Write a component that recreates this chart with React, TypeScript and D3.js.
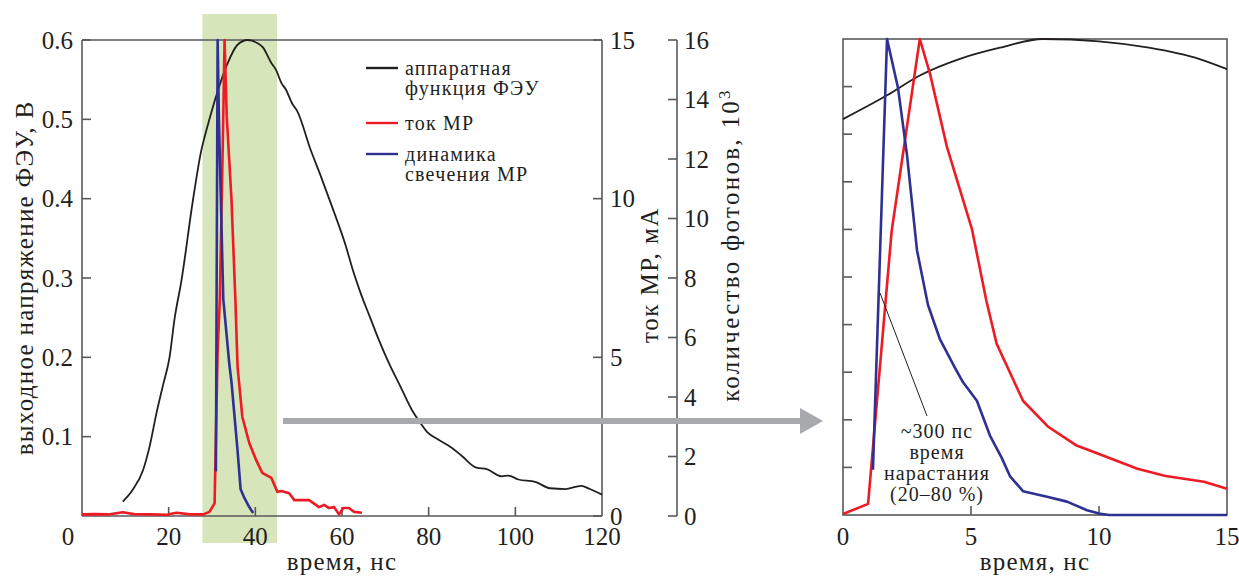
import React from "react";
import * as d3 from "d3";

// ---------- DATA ----------
// Left panel: time (ns)
const pmtT = [9.4, 11.7, 14.1, 15.7, 17.2, 18.7, 20.2, 21.4, 22.9, 25.6, 27.5, 28.3, 29.4, 31.0, 33.4, 35.9, 38.2, 40.5, 41.7, 43.7, 44.8, 46.0, 47.1, 48.5, 49.7, 52.8, 55, 57.7, 60.9, 62.5, 64.3, 66.5, 68.5, 70.8, 73.5, 76.1, 78, 79.8, 82, 85.3, 87.6, 91, 93.4, 96.8, 98.4, 100.7, 104.6, 108, 111.5, 115.2, 117.2, 120];
const pmtV = [0.018, 0.033, 0.058, 0.09, 0.13, 0.165, 0.2, 0.25, 0.295, 0.398, 0.46, 0.478, 0.5, 0.53, 0.568, 0.594, 0.6, 0.596, 0.591, 0.571, 0.562, 0.546, 0.537, 0.52, 0.51, 0.461, 0.43, 0.39, 0.34, 0.31, 0.281, 0.25, 0.222, 0.193, 0.163, 0.134, 0.118, 0.105, 0.097, 0.086, 0.076, 0.061, 0.059, 0.05, 0.051, 0.046, 0.043, 0.035, 0.034, 0.038, 0.034, 0.027];

const curT = [0, 3, 6, 9.4, 12, 16, 19.5, 21.8, 25, 28, 29.4, 30.6, 31.3, 31.8, 32.5, 32.9, 33.4, 34.5, 35.4, 35.9, 37.0, 38.6, 40.2, 41.6, 43.7, 45.1, 46.0, 47.8, 49.0, 50.1, 52.4, 54.7, 55.9, 57.0, 58.2, 59.3, 60.3, 61.6, 62.8, 64.6];
const curMA = [0.05, 0.06, 0.05, 0.12, 0.06, 0.05, 0.04, 0.1, 0.05, 0.05, 0.13, 0.4, 5.2, 6.8, 11.8, 15, 12.6, 9.96, 6.8, 4.7, 3.12, 2.3, 1.76, 1.36, 1.2, 0.76, 0.79, 0.72, 0.5, 0.5, 0.5, 0.28, 0.35, 0.25, 0.28, 0.05, 0.25, 0.25, 0.13, 0.1];

const lumT = [30.9, 31.3, 31.6, 32.6, 34.0, 34.5, 35.9, 36.6, 37.5, 38.6, 39.5];
const lumPh = [1.5, 16, 13.3, 7.3, 5.1, 4.5, 2.2, 0.9, 0.6, 0.3, 0.1];

// Right panel (zoomed view): time (ns)
const zPmtT = [0, 1.72, 3.0, 4.57, 6.13, 7.8, 10, 11.95, 13.9, 15];
const zPmtV = [0.499, 0.529, 0.554, 0.575, 0.589, 0.6, 0.597, 0.589, 0.575, 0.562];

const zCurT = [0, 0.98, 1.9, 3.0, 3.4, 4.06, 5.04, 5.6, 6.0, 7.03, 8.0, 9.1, 10.0, 11.5, 12.6, 14.1, 15];
const zCurMA = [0.03, 0.35, 8.94, 15, 13.9, 11.6, 9.0, 6.75, 5.4, 3.6, 2.79, 2.2, 1.92, 1.46, 1.23, 1.05, 0.83];

const zLumT = [1.17, 1.72, 2.15, 2.5, 2.89, 3.32, 3.79, 4.38, 4.69, 5.23, 5.74, 6.2, 6.52, 7.03, 7.97, 8.75, 9.53, 10, 10.4, 15];
const zLumPh = [1.52, 16, 14.35, 12.1, 8.9, 7.06, 5.9, 4.94, 4.46, 3.84, 2.67, 1.92, 1.31, 0.8, 0.61, 0.45, 0.16, 0.05, 0, 0];

// Ticks
const leftXTicks = [0, 20, 40, 60, 80, 100, 120];
const leftYTicks = [0.1, 0.2, 0.3, 0.4, 0.5, 0.6];
const curTicks = [0, 5, 10, 15];
const phTicks = [0, 2, 4, 6, 8, 10, 12, 14, 16];
const rightXTicks = [0, 5, 10, 15];
const rightYTicks = [1, 2, 3, 4, 5, 6, 7, 8, 9];
const shadeRange = [27.8, 45];

const legendItems = [
  { lines: ["аппаратная", "функция ФЭУ"], color: "#231f20" },
  { lines: ["ток МР"], color: "#ed1c24" },
  { lines: ["динамика", "свечения МР"], color: "#2e3192" },
];
const annotationLines = ["~300 пс", "время", "нарастания", "(20–80 %)"];

// ---------- STYLE ----------
const FONT = '"Liberation Serif", "Times New Roman", serif';
const TXT = "#231f20";
const AX = "#58595b";
const RED = "#ed1c24";
const BLUE = "#2e3192";
const BLK = "#231f20";

const T = (size: number, ls = 0) => ({ fontFamily: FONT, fontSize: size + "px", letterSpacing: ls + "px" });

export default function App() {
  // left panel scales
  const x = d3.scaleLinear().domain([0, 120]).range([82, 602]);
  const yV = d3.scaleLinear().domain([0, 0.6]).range([516, 40]);
  const yMA = d3.scaleLinear().domain([0, 15]).range([516, 40]);
  const yPh = d3.scaleLinear().domain([0, 16]).range([516, 40]);
  // right panel scales
  const xr = d3.scaleLinear().domain([0, 15]).range([843, 1227]);
  const yrV = d3.scaleLinear().domain([0, 0.6]).range([515, 39]);
  const yrMA = d3.scaleLinear().domain([0, 15]).range([515, 39]);
  const yrPh = d3.scaleLinear().domain([0, 16]).range([515, 39]);
  const yrFrac = d3.scaleLinear().domain([0, 10]).range([515, 39]);

  const mk = (xs: number[], ys: number[], sx: any, sy: any, curve: any = d3.curveLinear) =>
    d3.line<number>().x((_, i) => sx(xs[i])).y((d) => sy(d)).curve(curve)(ys) || "";

  const fs = 25;
  const tick = T(fs);
  const title = T(fs, 1.2);

  return (
    <svg width={1239} height={577} style={{ position: "absolute", left: 0, top: 0 }}>
      <rect x={0} y={0} width={1239} height={577} fill="#fff" />
      {/* green shading */}
      <rect x={x(shadeRange[0])} y={14} width={x(shadeRange[1]) - x(shadeRange[0])} height={529} fill="#d6e5ba" />

      {/* left frame */}
      <g stroke={AX} strokeWidth={1.6} fill="none">
        <line x1={x(0)} y1={yV(0.6)} x2={x(120)} y2={yV(0.6)} />
        <line x1={x(0)} y1={yV(0)} x2={x(120)} y2={yV(0)} />
        <line x1={x(0)} y1={yV(0)} x2={x(0)} y2={yV(0.6)} />
        <line x1={x(120)} y1={yV(0)} x2={x(120)} y2={yV(0.6)} />
        {leftYTicks.map((t) => (
          <line key={"ly" + t} x1={x(0)} x2={x(0) + 9} y1={yV(t)} y2={yV(t)} />
        ))}
        {leftXTicks.filter((t) => t > 0 && t < 120).map((t) => (
          <line key={"lx" + t} x1={x(t)} x2={x(t)} y1={yV(0)} y2={yV(0) - 9} />
        ))}
        {curTicks.map((t) => (
          <line key={"ct" + t} x1={x(120) - 9} x2={x(120)} y1={yMA(t)} y2={yMA(t)} />
        ))}
        <line x1={677} x2={677} y1={yPh(0)} y2={yPh(16)} />
        {phTicks.map((t) => (
          <line key={"pt" + t} x1={668} x2={677} y1={yPh(t)} y2={yPh(t)} />
        ))}
      </g>

      {/* tick labels */}
      <g fill={TXT}>
        {leftYTicks.map((t) => (
          <text key={"lyl" + t} style={tick} x={73} y={yV(t) + 8.5} textAnchor="end">{t.toFixed(1)}</text>
        ))}
        {leftXTicks.map((t) => (
          <text key={"lxl" + t} style={tick} x={t === 0 ? x(0) - 14 : x(t)} y={545} textAnchor="middle">{t}</text>
        ))}
        {curTicks.map((t) => (
          <text key={"cl" + t} style={tick} x={610} y={yMA(t) + 8.5}>{t}</text>
        ))}
        {phTicks.map((t) => (
          <text key={"pl" + t} style={tick} x={684} y={yPh(t) + 8.5}>{t}</text>
        ))}
        {rightXTicks.map((t) => (
          <text key={"rxl" + t} style={tick} x={xr(t)} y={545} textAnchor="middle">{t}</text>
        ))}
      </g>

      {/* axis titles */}
      <g fill={TXT} textAnchor="middle">
        <text style={T(fs, 1.3)} transform="translate(33,278) rotate(-90)">выходное напряжение ФЭУ, В</text>
        <text style={T(fs, 1.5)} transform="translate(658,275) rotate(-90)">ток МР, мА</text>
        <text style={T(fs, 2.3)} transform="translate(739,245) rotate(-90)">
          количество фотонов, 10<tspan dy={-9} style={{ fontSize: "17px" }}>3</tspan>
        </text>
        <text style={title} x={342} y={570}>время, нс</text>
        <text style={title} x={1035} y={570}>время, нс</text>
      </g>

      {/* left curves */}
      <path d={mk(pmtT, pmtV, x, yV, d3.curveMonotoneX)} fill="none" stroke={BLK} strokeWidth={1.8} />
      <path d={mk(curT, curMA, x, yMA)} fill="none" stroke={RED} strokeWidth={2.6} strokeLinejoin="round" />
      <path d={mk(lumT, lumPh, x, yPh)} fill="none" stroke={BLUE} strokeWidth={2.6} strokeLinejoin="round" />

      {/* legend */}
      <g fill={TXT}>
        {legendItems.map((it, i) => {
          const ly = [68, 123, 154][i];
          return (
            <g key={"lg" + i}>
              <line x1={366} x2={398} y1={ly} y2={ly} stroke={it.color} strokeWidth={2.4} />
              {it.lines.map((s, j) => (
                <text key={j} style={T(20, 1.2)} x={405} y={ly + 7 + j * 20}>{s}</text>
              ))}
            </g>
          );
        })}
      </g>

      {/* right panel frame */}
      <g stroke={AX} strokeWidth={1.6} fill="none">
        <rect x={xr(0)} y={yrFrac(10)} width={xr(15) - xr(0)} height={yrFrac(0) - yrFrac(10)} />
        {rightYTicks.map((t) => (
          <line key={"ry" + t} x1={xr(0)} x2={xr(0) + 9} y1={yrFrac(t)} y2={yrFrac(t)} />
        ))}
        {rightXTicks.filter((t) => t > 0 && t < 15).map((t) => (
          <line key={"rx" + t} x1={xr(t)} x2={xr(t)} y1={yrFrac(0)} y2={yrFrac(0) - 9} />
        ))}
      </g>

      {/* right curves */}
      <path d={mk(zPmtT, zPmtV, xr, yrV, d3.curveMonotoneX)} fill="none" stroke={BLK} strokeWidth={1.8} />
      <path d={mk(zCurT, zCurMA, xr, yrMA)} fill="none" stroke={RED} strokeWidth={2.6} strokeLinejoin="round" />
      <path d={mk(zLumT, zLumPh, xr, yrPh)} fill="none" stroke={BLUE} strokeWidth={2.6} strokeLinejoin="round" />

      {/* annotation */}
      <line x1={880} y1={293} x2={927} y2={416} stroke={BLK} strokeWidth={1} />
      <g fill={TXT} textAnchor="middle">
        {annotationLines.map((s, i) => (
          <text key={"an" + i} style={T(20, 1)} x={937} y={438 + i * 21}>{s}</text>
        ))}
      </g>

      {/* gray arrow */}
      <line x1={283} x2={802} y1={421} y2={421} stroke="#a7a9ac" strokeWidth={6} />
      <polygon points="800,408 823,421 800,434" fill="#a7a9ac" />
    </svg>
  );
}
